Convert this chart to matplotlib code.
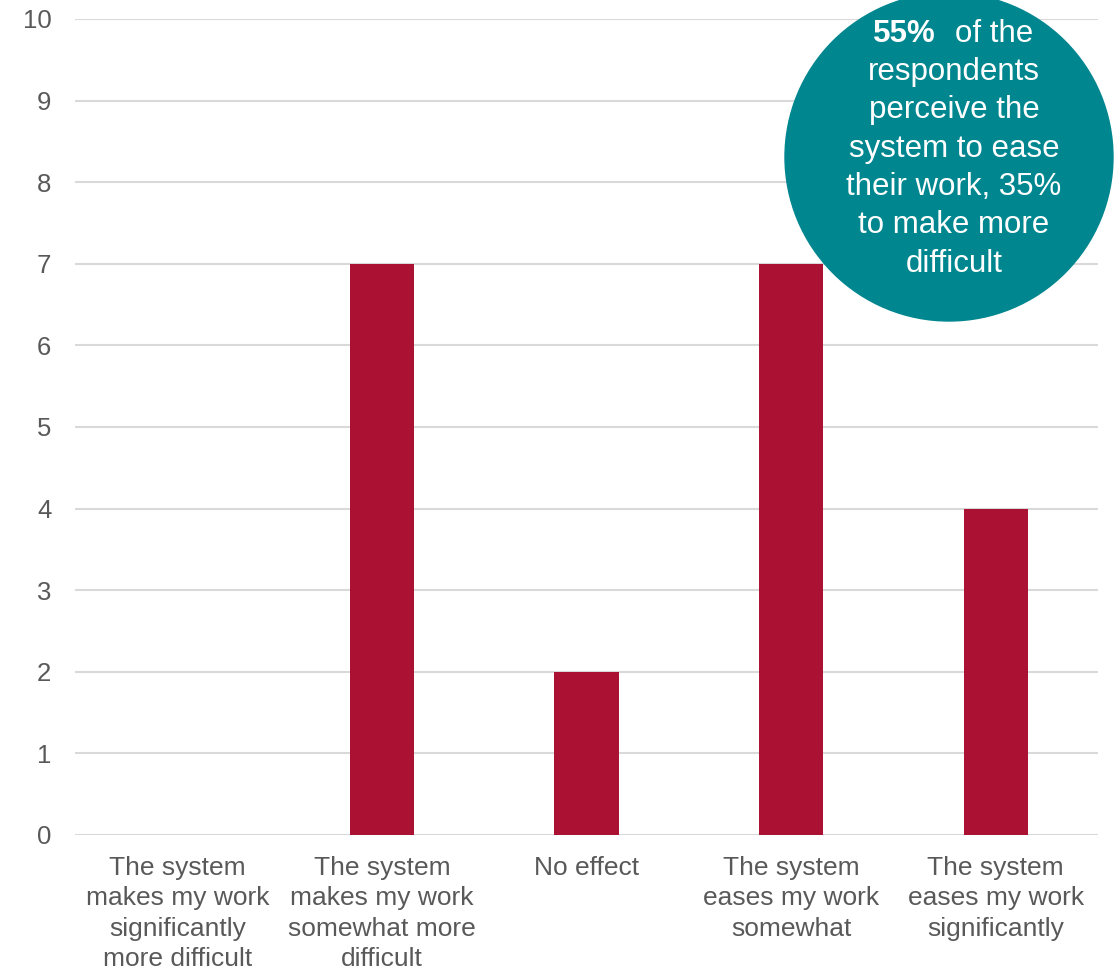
import matplotlib
matplotlib.use("Agg")
import matplotlib.pyplot as plt
from matplotlib.patches import Circle

categories = [
    "The system\nmakes my work\nsignificantly\nmore difficult",
    "The system\nmakes my work\nsomewhat more\ndifficult",
    "No effect",
    "The system\neases my work\nsomewhat",
    "The system\neases my work\nsignificantly",
]
values = [0, 7, 2, 7, 4]
y_ticks = list(range(0, 11))

BAR = "#AB1132"
TEAL = "#00868F"
GRAY = "#595959"
GRID = "#D9D9D9"

plt.rcParams["font.family"] = ["Liberation Sans", "DejaVu Sans"]

W, H = 1114, 974
fig = plt.figure(figsize=(W / 100, H / 100), dpi=100)
ax = fig.add_axes([75 / W, 1 - 835 / H, (1098 - 75) / W, (835 - 19) / H])

x = list(range(len(categories)))
ax.bar(x, values, width=0.313, color=BAR, zorder=3)
ax.set_xlim(-0.5, len(categories) - 0.5)
ax.set_ylim(0, 10)
ax.set_yticks(y_ticks)
ax.set_xticks(x)
ax.set_xticklabels(categories, fontsize=19, color=GRAY, linespacing=1.34)
ax.tick_params(axis="y", labelsize=18.5, labelcolor=GRAY, length=0, pad=17)
ax.tick_params(axis="x", length=0, pad=15)
ax.yaxis.grid(True, color=GRID, linewidth=1.5, zorder=0)
ax.set_axisbelow(True)
for s in ax.spines.values():
    s.set_visible(False)

# overlay in pixel coordinates for the callout circle
ov = fig.add_axes([0, 0, 1, 1], zorder=5)
ov.set_xlim(0, W)
ov.set_ylim(H, 0)
ov.axis("off")
ov.patch.set_alpha(0)
ov.add_patch(Circle((949, 157), 164, color=TEAL, zorder=1))

fs = 22.5
ov.text(936, 42, "55%", ha="right", va="baseline", fontsize=fs, fontweight="bold", color="white", zorder=2)
ov.text(955, 42, "of the", ha="left", va="baseline", fontsize=fs, color="white", zorder=2)
lines = ["respondents", "perceive the", "system to ease", "their work, 35%", "to make more", "difficult"]
ys = [80, 118, 157, 195, 233, 272]
for t, yy in zip(lines, ys):
    ov.text(954, yy, t, ha="center", va="baseline", fontsize=fs, color="white", zorder=2)

fig.savefig("out.png", dpi=100, facecolor="white")
